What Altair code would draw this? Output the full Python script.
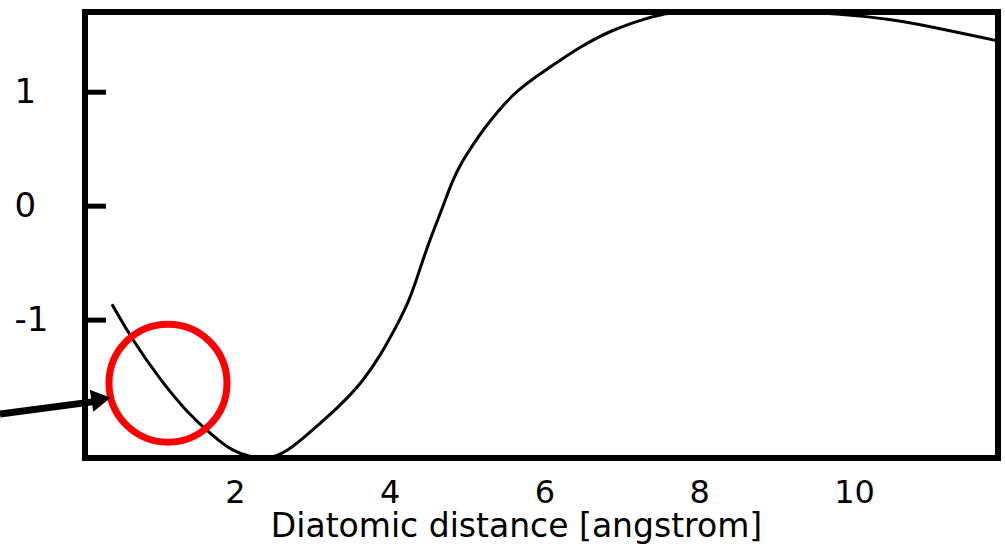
import altair as alt
import pandas as pd

# Curve
dist = [0.41, 0.68, 1.03, 1.38, 1.72, 1.97, 2.19, 2.42, 2.67, 3.01, 3.36, 3.65, 3.87, 4.09,
        4.26, 4.39, 4.52, 4.69, 4.80, 4.93, 5.07, 5.17, 5.59, 6.03, 6.46, 6.88, 7.32, 7.60,
        8.00, 8.50, 9.00, 9.50, 10.07, 10.46, 10.81, 11.24, 11.66, 11.86]
energy = [-0.86, -1.18, -1.52, -1.81, -2.02, -2.15, -2.20, -2.22, -2.16, -1.96, -1.75, -1.54,
          -1.32, -1.05, -0.82, -0.55, -0.29, 0.0, 0.21, 0.39, 0.53, 0.64, 1.00, 1.20, 1.40,
          1.55, 1.65, 1.70, 1.71, 1.71, 1.71, 1.70, 1.67, 1.64, 1.60, 1.54, 1.48, 1.45]

x_ticks = [2, 4, 6, 8, 10]
y_ticks = [-1, 0, 1]

# Annotation (red circle + arrow), in data units
circle_x = [1.134]
circle_y = [-1.553]
arrow_x = [-1.036]
arrow_y = [-1.825]
arrow_x2 = [0.18]
arrow_y2 = [-1.715]
head_x = [0.27]
head_y = [-1.695]

FONT = "DejaVu Sans"
XDOM = [0.062, 11.86]
YDOM = [-2.21, 1.704]

curve = pd.DataFrame({"d": dist, "e": energy})

xs = alt.Scale(domain=XDOM, nice=False, zero=False)
ys = alt.Scale(domain=YDOM, nice=False, zero=False)

line = alt.Chart(curve).mark_line(color="black", strokeWidth=3, interpolate="basis", clip=True).encode(
    x=alt.X("d:Q", scale=xs,
            axis=alt.Axis(values=x_ticks, title="Diatomic distance [angstrom]", domain=False, grid=False,
                          ticks=False, tickSize=0, labelPadding=19, labelFontSize=32, labelFont=FONT,
                          labelColor="black", labelExpr="'' + datum.value",
                          titleFont=FONT, titleFontSize=33, titleFontWeight="normal",
                          titleColor="black", titleX=431, titleY=78, titleBaseline="alphabetic",
                          titleAlign="center")),
    y=alt.Y("e:Q", scale=ys,
            axis=alt.Axis(values=y_ticks, title=None, domain=False, grid=False, ticks=False, tickSize=0,
                          labelPadding=71, labelAlign="left", labelBaseline="middle", labelFontSize=34,
                          labelFont=FONT, labelColor="black", labelExpr="'' + datum.value")),
)

tick_df = pd.DataFrame({"t": y_ticks})
ticks = alt.Chart(tick_df).mark_rule(color="black", strokeWidth=5).encode(
    x=alt.value(0), x2=alt.value(21), y=alt.Y("t:Q", scale=ys)
)

circ = alt.Chart(pd.DataFrame({"x": circle_x, "y": circle_y})).mark_point(
    shape="circle", filled=False, color="#ff0000", strokeWidth=7, size=13924, opacity=1, clip=False
).encode(x=alt.X("x:Q", scale=xs), y=alt.Y("y:Q", scale=ys))

arrow = alt.Chart(pd.DataFrame({"x": arrow_x, "y": arrow_y, "x2": arrow_x2, "y2": arrow_y2})).mark_rule(
    color="black", strokeWidth=7, clip=False
).encode(x=alt.X("x:Q", scale=xs), y=alt.Y("y:Q", scale=ys), x2="x2:Q", y2="y2:Q")

head = alt.Chart(pd.DataFrame({"x": head_x, "y": head_y})).mark_point(
    shape="triangle-right", filled=True, color="black", size=500, angle=351, opacity=1, clip=False
).encode(x=alt.X("x:Q", scale=xs), y=alt.Y("y:Q", scale=ys))

chart = alt.layer(line, ticks, circ, arrow, head).properties(
    width=913, height=446,
    background="white",
    autosize=alt.AutoSizeParams(type="none"),
    padding={"left": 85, "top": 12, "right": 7, "bottom": 92},
).configure_view(stroke="black", strokeWidth=6)

chart.save("out.html", embed_options={"renderer": "svg", "actions": False})
